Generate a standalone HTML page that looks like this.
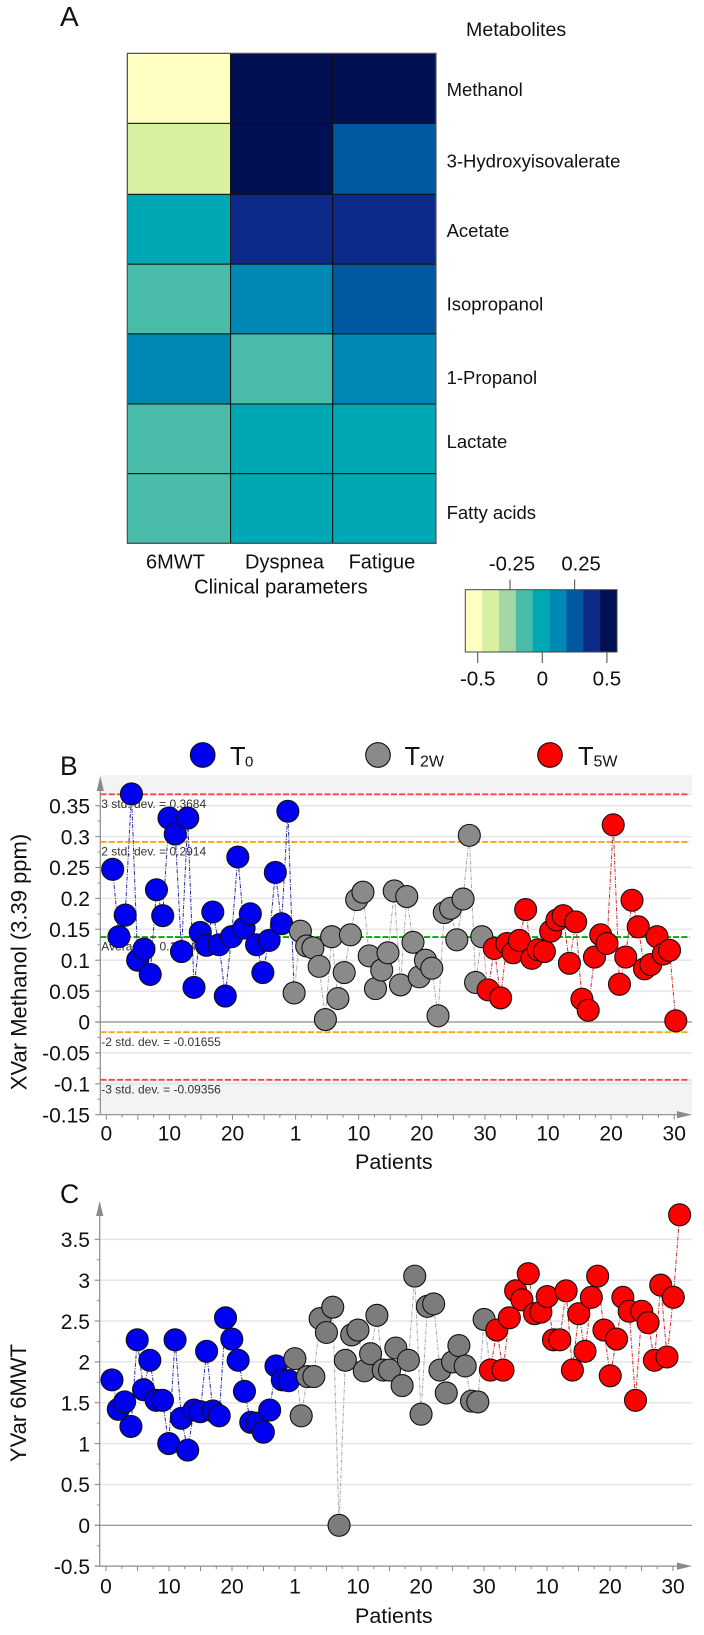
<!DOCTYPE html>
<html lang="en">
<head>
<meta charset="utf-8">
<title>Metabolite heatmap and control charts</title>
<style>
html,body{margin:0;padding:0;background:#fff;}
svg{display:block;font-family:"Liberation Sans",Arial,sans-serif;fill:#111;}
</style>
</head>
<body>
<svg id="fig" xmlns="http://www.w3.org/2000/svg" width="704" height="1635" viewBox="0 0 704 1635">
  <rect x="0" y="0" width="704" height="1635" fill="#fff"/>
  <g id="panelA"></g>
  <g id="panelB"></g>
  <g id="panelC"></g>
  <g id="static">
    <text x="60" y="26" font-size="28">A</text>
    <text x="60" y="775" font-size="26.5">B</text>
    <text x="60" y="1203" font-size="26.5">C</text>
    <text x="466" y="36" font-size="19.6">Metabolites</text>
    <text x="194" y="593.5" font-size="20.3">Clinical parameters</text>
    <text transform="translate(26.5,962) rotate(-90)" text-anchor="middle" font-size="22">XVar Methanol (3.39 ppm)</text>
    <text x="355" y="1169" font-size="21.5">Patients</text>
    <text transform="translate(26,1403) rotate(-90)" text-anchor="middle" font-size="22">YVar 6MWT</text>
    <text x="355" y="1623" font-size="21.5">Patients</text>
    <g>
      <circle cx="202.7" cy="755" r="12.3" fill="#0000f0" stroke="#111" stroke-width="1.1"/>
      <text x="230" y="765" font-size="25.5">T</text>
      <text x="245" y="766.7" font-size="15">0</text>
      <circle cx="378" cy="755" r="12.3" fill="#8a8a8a" stroke="#111" stroke-width="1.1"/>
      <text x="404.5" y="765" font-size="25.5">T</text>
      <text x="420" y="766.7" font-size="16">2W</text>
      <circle cx="550" cy="755" r="12.3" fill="#ff0000" stroke="#111" stroke-width="1.1"/>
      <text x="578" y="765" font-size="25.5">T</text>
      <text x="593.5" y="766.7" font-size="16">5W</text>
    </g>
  </g>
</svg>
<script>
/* ---------- heatmap data ---------- */
var metabolites = ['Methanol','3-Hydroxyisovalerate','Acetate','Isopropanol','1-Propanol','Lactate','Fatty acids'];
var clinical = ['6MWT','Dyspnea','Fatigue'];
var heatValues = [
  [-0.5, 0.5, 0.5],
  [-0.4, 0.5, 0.25],
  [0, 0.38, 0.38],
  [-0.14, 0.12, 0.25],
  [0.12, -0.14, 0.12],
  [-0.14, 0, 0],
  [-0.14, 0, 0]
];
var palette = ['#ffffc4','#d8f1a1','#a3d7a4','#4abdaa','#00a8b6','#0088b4','#0058a0','#0c2a8a','#001053'];
var colorbarTicksBottom = [-0.5, 0, 0.5];
var colorbarTicksTop = [-0.25, 0.25];

/* ---------- chart B data: XVar Methanol ---------- */
var xvarT0 = [0.247,0.138,0.173,0.369,0.100,0.118,0.077,0.214,0.172,0.330,0.304,0.114,0.330,0.056,0.145,0.124,0.178,0.125,0.042,0.138,0.267,0.152,0.175,0.125,0.080,0.132,0.242,0.159,0.341];
var xvarT2W = [0.047,0.147,0.123,0.120,0.090,0.004,0.138,0.038,0.080,0.141,0.198,0.210,0.107,0.054,0.084,0.112,0.212,0.060,0.203,0.129,0.073,0.100,0.087,0.010,0.177,0.184,0.133,0.199,0.302,0.064,0.138];
var xvarT5W = [0.052,0.119,0.039,0.127,0.112,0.132,0.182,0.103,0.117,0.114,0.147,0.165,0.172,0.095,0.162,0.037,0.019,0.105,0.141,0.127,0.319,0.061,0.105,0.197,0.154,0.086,0.093,0.138,0.110,0.116,0.002];
var xvarTicks = [0.35,0.3,0.25,0.2,0.15,0.1,0.05,0,-0.05,-0.1,-0.15];
var xvarLimitValues = [0.3684,0.2914,0.1374,-0.01655,-0.09356];
var xvarLimitLabels = ['3 std. dev. = 0.3684','2 std. dev. = 0.2914','Average = 0.1374','-2 std. dev. = -0.01655','-3 std. dev. = -0.09356'];

/* ---------- chart C data: YVar 6MWT ---------- */
var yvarT0 = [1.78,1.42,1.51,1.21,2.27,1.66,2.02,1.53,1.53,1.00,2.27,1.31,0.92,1.41,1.39,2.13,1.40,1.34,2.54,2.28,2.02,1.64,1.26,1.25,1.14,1.41,1.95,1.78,1.77];
var yvarT2W = [2.04,1.34,1.82,1.82,2.53,2.36,2.67,0,2.02,2.33,2.39,1.89,2.10,2.57,1.90,1.90,2.17,1.71,2.02,3.05,1.36,2.68,2.71,1.90,1.62,2.00,2.20,1.95,1.52,1.51,2.52];
var yvarT5W = [1.90,2.39,1.90,2.54,2.87,2.76,3.08,2.59,2.61,2.80,2.27,2.27,2.87,1.90,2.59,2.13,2.79,3.05,2.39,1.83,2.28,2.79,2.62,1.53,2.62,2.48,2.02,2.94,2.06,2.79,3.80];
var yvarTicks = [3.5,3,2.5,2,1.5,1,0.5,0,-0.5];

/* ---------- shared x axis labels ---------- */
var patientTickPositions = [0,10,20,30,40,50,60,70,80,90];
var patientTickLabels = ['0','10','20','1','10','20','30','10','20','30'];

var NS = 'http://www.w3.org/2000/svg';
function mk(parent, tag, attrs, txt) {
  var el = document.createElementNS(NS, tag);
  for (var k in attrs) el.setAttribute(k, attrs[k]);
  if (txt !== undefined) el.textContent = txt;
  parent.appendChild(el);
  return el;
}
function slug(s) { return String(s).toLowerCase().replace(/[^a-z0-9]+/g, '-'); }

/* ---------- heatmap ---------- */
(function () {
  var g = document.getElementById('panelA');
  var rowEdges = [53.4,123.4,194.4,264.2,333.9,404,473.7,543.3];
  var colEdges = [127.4,230.6,332.7,436];
  var rowBaselines = [96,167.4,237,310.7,384,447.8,518.8];
  var colStarts = [146,245,348.6];
  var barL = 465.3, barR = 617, barT = 589.7, barB = 652;
  var dMin = -0.596, dMax = 0.578;
  function band(v) {
    var i = Math.floor((v - dMin) / (dMax - dMin) * palette.length);
    return palette[Math.max(0, Math.min(palette.length - 1, i))];
  }
  function barX(v) { return barL + (v - dMin) / (dMax - dMin) * (barR - barL); }
  heatValues.forEach(function (row, r) {
    row.forEach(function (v, c) {
      var el = mk(g, 'rect', {
        x: colEdges[c], y: rowEdges[r],
        width: colEdges[c + 1] - colEdges[c], height: rowEdges[r + 1] - rowEdges[r],
        fill: band(v), stroke: '#111', 'stroke-width': 1
      });
      
      
    });
  });
  var hf = mk(g, 'rect', { x: colEdges[0], y: rowEdges[0], width: colEdges[3] - colEdges[0], height: rowEdges[7] - rowEdges[0], fill: 'none', stroke: '#555', 'stroke-width': 1.2 });
  
  
  metabolites.forEach(function (m, r) {
    var el = mk(g, 'text', { x: 446.6, y: rowBaselines[r], 'font-size': 18.5 }, m);
    
    
  });
  clinical.forEach(function (m, c) {
    var el = mk(g, 'text', { x: colStarts[c], y: 568.5, 'font-size': 20 }, m);
    
    
  });
  palette.forEach(function (col, i) {
    var w = (barR - barL) / palette.length;
    var el = mk(g, 'rect', { x: barL + i * w, y: barT, width: w + 0.3, height: barB - barT, fill: col });
    
    
  });
  var frame = mk(g, 'rect', { x: barL, y: barT, width: barR - barL, height: barB - barT, fill: 'none', stroke: '#444', 'stroke-width': 1 });
  
  
  colorbarTicksBottom.forEach(function (v) {
    var t = mk(g, 'line', { x1: barX(v), x2: barX(v), y1: barB, y2: 663, stroke: '#555', 'stroke-width': 1.1 });
    
    
    var l = mk(g, 'text', { x: barX(v), y: 685.5, 'font-size': 20.6, 'text-anchor': 'middle' }, String(v));
    
    
  });
  colorbarTicksTop.forEach(function (v) {
    var t = mk(g, 'line', { x1: barX(v), x2: barX(v), y1: 579.5, y2: barT, stroke: '#555', 'stroke-width': 1.1 });
    
    
    var l = mk(g, 'text', { x: barX(v) + (v < 0 ? 2 : 6.5), y: 570.5, 'font-size': 20.3, 'text-anchor': 'middle' }, String(v));
    
    
  });
})();

/* ---------- control chart ---------- */
function drawAxesAndMarks(g, o) {
  var AXL = o.axisX, PR = 692;
  function y(v) { return o.zeroY - v * o.pxPerUnit; }
  function tickX(t) { return o.tickX0 + o.tickStep * t; }
  function ptX(n) { return o.ptX0 + o.ptStep * (n - 1); }
  var AXB = y(o.yTicks[o.yTicks.length - 1]);

  if (o.limits) {
    var top = mk(g, 'rect', { x: AXL, y: o.top, width: PR - AXL, height: y(o.limits[0]) - o.top, fill: '#f3f3f3' });
    
    
    var bot = mk(g, 'rect', { x: AXL, y: y(o.limits[4]), width: PR - AXL, height: AXB - y(o.limits[4]), fill: '#f3f3f3' });
    
    
  }

  /* grid, y ticks, labels */
  o.yTicks.forEach(function (v, i) {
    var isZero = v === 0;
    if (i !== o.yTicks.length - 1) {
      var gl = mk(g, 'line', { x1: AXL - 5, x2: PR, y1: y(v), y2: y(v), stroke: isZero ? '#8a8a8a' : '#e6e6e6', 'stroke-width': isZero ? 1.2 : 1.5 });
      
      
    }
    var lab = mk(g, 'text', { x: 90, y: y(v) + 7.7, 'font-size': 21, 'text-anchor': 'end' }, String(v));
    
    
    var step = Math.abs(o.yTicks[0] - o.yTicks[1]);
    if (i !== o.yTicks.length - 1) {
      var tk = mk(g, 'line', { x1: AXL - 5, x2: AXL, y1: y(v), y2: y(v), stroke: '#8a8a8a', 'stroke-width': 1 });
      
      
      var mn = mk(g, 'line', { x1: AXL - 3, x2: AXL, y1: y(v - step / 2), y2: y(v - step / 2), stroke: '#9a9a9a', 'stroke-width': 1 });
      
      
    }
  });

  /* axes */
  var ya = mk(g, 'line', { x1: AXL, x2: AXL, y1: o.top + 5, y2: AXB, stroke: '#8a8a8a', 'stroke-width': 1.2 });
  
  
  var xa = mk(g, 'line', { x1: AXL - 5, x2: PR - 8, y1: AXB, y2: AXB, stroke: '#8a8a8a', 'stroke-width': 1.2 });
  
  
  var ah1 = mk(g, 'polygon', { points: AXL + ',' + (o.top + 1) + ' ' + (AXL + 3.6) + ',' + (o.top + 16) + ' ' + (AXL - 3.6) + ',' + (o.top + 16), fill: '#8a8a8a' });
  
  
  var ah2 = mk(g, 'polygon', { points: PR + ',' + AXB + ' ' + (PR - 15) + ',' + (AXB - 3.6) + ' ' + (PR - 15) + ',' + (AXB + 3.6), fill: '#8a8a8a' });
  
  

  /* x ticks */
  for (var t = 0; t <= 90; t += 2.5) {
    var len = t % 5 === 0 ? 5 : 3;
    var xt = mk(g, 'line', { x1: tickX(t), x2: tickX(t), y1: AXB, y2: AXB + len, stroke: '#8a8a8a', 'stroke-width': 1 });
    
    
  }
  patientTickPositions.forEach(function (p, i) {
    var l = mk(g, 'text', { x: tickX(p), y: o.xLabelY, 'font-size': 21, 'text-anchor': 'middle' }, patientTickLabels[i]);
    
    
  });

  /* control limits */
  if (o.limits) {
    var limColors = ['#f24a42', '#ffa214', '#00aa00', '#ffa214', '#f24a42'];
    var limNames = ['plus-3-std', 'plus-2-std', 'average', 'minus-2-std', 'minus-3-std'];
    o.limits.forEach(function (v, i) {
      var ln = mk(g, 'line', { x1: AXL, x2: PR - 2, y1: y(v), y2: y(v), stroke: limColors[i], 'stroke-width': 1.9, 'stroke-dasharray': '6.2 2.1' });
      
      
      var lb = mk(g, 'text', { x: AXL + 1, y: y(v) + 13.6, 'font-size': 12, fill: '#333' }, o.limitLabels[i]);
      
      
    });
  }

  /* series */
  var names = ['t0', 't2w', 't5w'];
  var fills = ['#0000f0', o.gray, '#ff0000'];
  var lines = ['#2a2aa8', '#a8a8a8', '#d02a2a'];
  var start = 1, pts = [];
  o.series.forEach(function (vals, s) {
    vals.forEach(function (v, i) { pts.push({ n: start + i, v: v, s: s }); });
    start += vals.length;
  });
  names.forEach(function (nm, s) {
    var d = pts.filter(function (p, i) {
      return p.s === s || (pts[i - 1] && pts[i - 1].s === s);
    }).map(function (p) { return ptX(p.n).toFixed(2) + ',' + y(p.v).toFixed(2); }).join(' ');
    var pl = mk(g, 'polyline', { points: d, fill: 'none', stroke: lines[s], 'stroke-width': 1, 'stroke-dasharray': '4 1.4 1 1.4' });
    
    
  });
  pts.forEach(function (p) {
    var c = mk(g, 'circle', { cx: ptX(p.n), cy: y(p.v), r: o.r, fill: fills[p.s], stroke: '#111', 'stroke-width': 1.1 });
    
    
  });
}

drawAxesAndMarks(document.getElementById('panelB'), {
  series: [xvarT0, xvarT2W, xvarT5W], yTicks: xvarTicks,
  limits: xvarLimitValues, limitLabels: xvarLimitLabels,
  axisX: 100.3, top: 775, zeroY: 1022, pxPerUnit: 618,
  tickX0: 106.3, tickStep: 6.31, ptX0: 112.67, ptStep: 6.257,
  xLabelY: 1140.7, r: 11, gray: '#8a8a8a'
});
drawAxesAndMarks(document.getElementById('panelC'), {
  series: [yvarT0, yvarT2W, yvarT5W], yTicks: yvarTicks,
  axisX: 99.7, top: 1200, zeroY: 1525.3, pxPerUnit: 81.7,
  tickX0: 106, tickStep: 6.3, ptX0: 112, ptStep: 6.307,
  xLabelY: 1593.3, r: 11, gray: '#7c7c7c'
});
</script>
</body>
</html>
